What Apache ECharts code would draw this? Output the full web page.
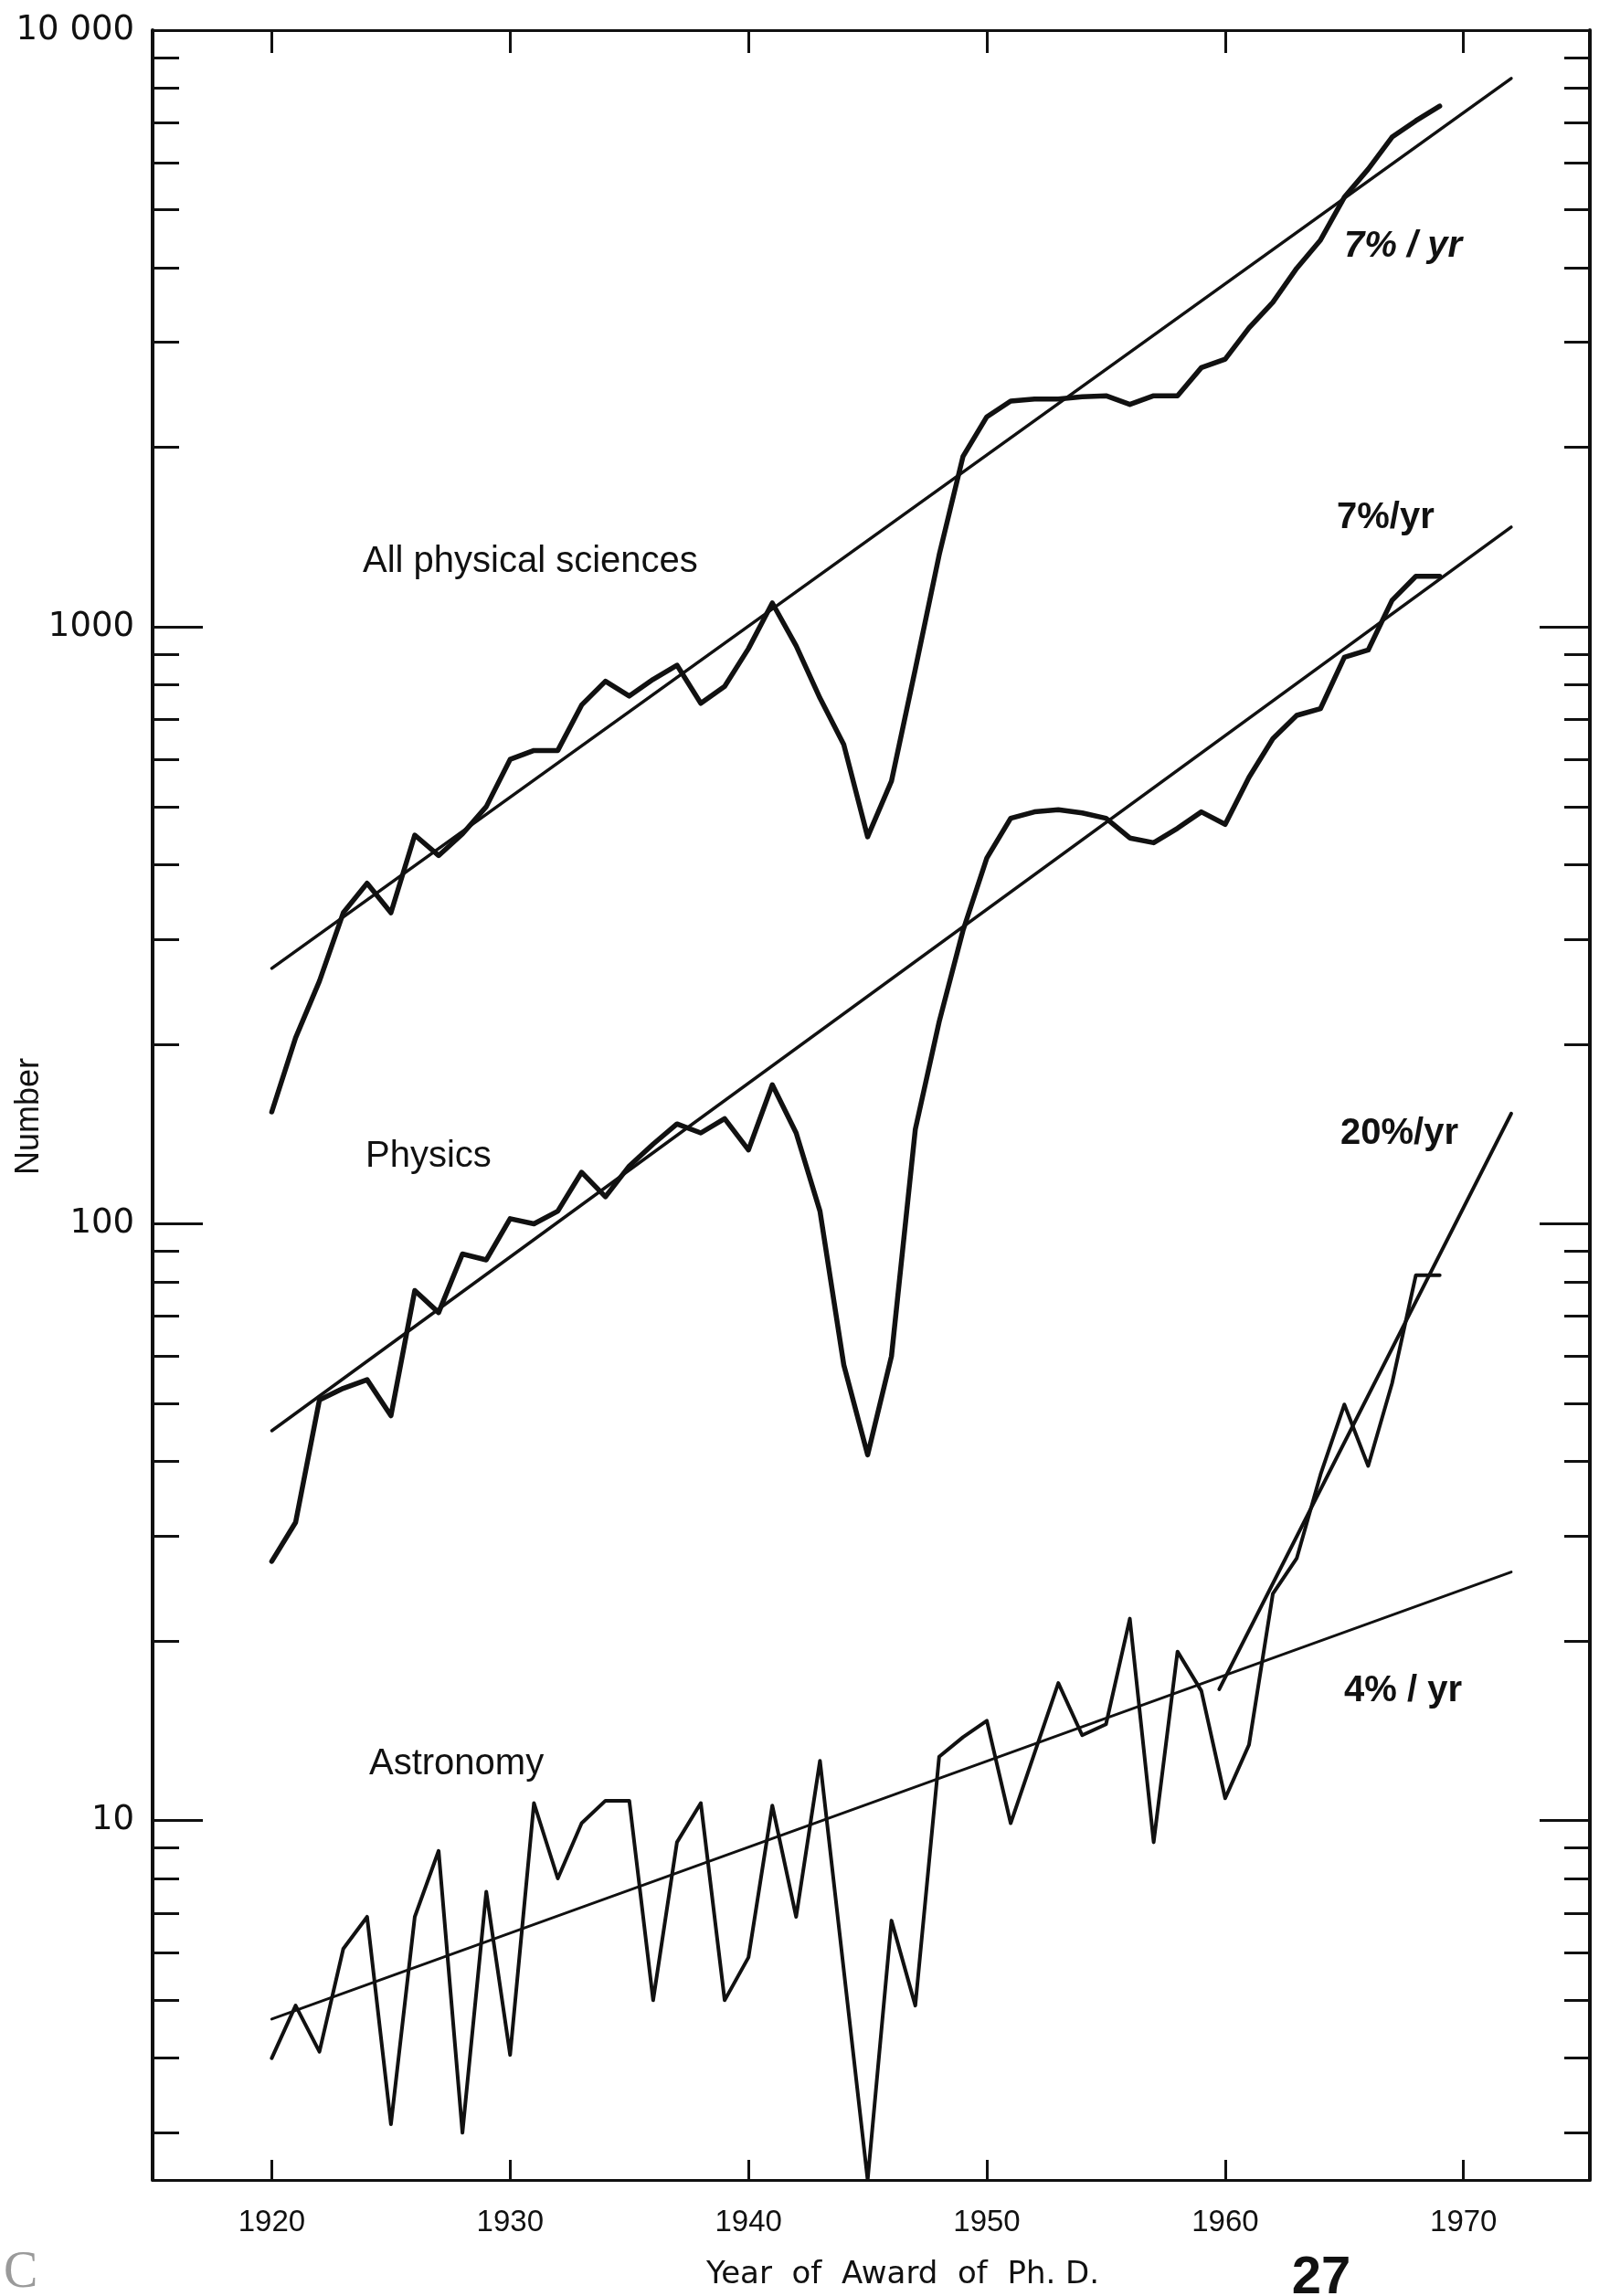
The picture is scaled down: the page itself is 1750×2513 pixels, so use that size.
<!DOCTYPE html>
<html>
<head>
<meta charset="utf-8">
<title>Ph.D. awards per year</title>
<script src="https://cdn.jsdelivr.net/npm/echarts@6/dist/echarts.min.js"></script>
<style>
html, body { margin: 0; padding: 0; background: #fff; }
#chart { width: 1750px; height: 2513px; }
</style>
</head>
<body>
<div id="chart"></div>
<script>
// years of award
var years = [1920, 1921, 1922, 1923, 1924, 1925, 1926, 1927, 1928, 1929,
             1930, 1931, 1932, 1933, 1934, 1935, 1936, 1937, 1938, 1939,
             1940, 1941, 1942, 1943, 1944, 1945, 1946, 1947, 1948, 1949,
             1950, 1951, 1952, 1953, 1954, 1955, 1956, 1957, 1958, 1959,
             1960, 1961, 1962, 1963, 1964, 1965, 1966, 1967, 1968, 1969];

// number of Ph.D.s
var allPhysSci = [154, 205, 255, 332, 372, 332, 448, 414, 450, 500,
                  600, 621, 621, 740, 811, 766, 817, 863, 745, 795,
                  920, 1097, 930, 760, 635, 445, 552, 850, 1320, 1930,
                  2250, 2390, 2410, 2410, 2430, 2440, 2360, 2440, 2440, 2720,
                  2810, 3170, 3500, 3990, 4450, 5250, 5850, 6620, 7050, 7460];

var physics = [27.2, 31.6, 50.7, 53, 54.8, 47.7, 77.3, 71, 89, 87,
               102, 100, 105, 122, 111, 125, 136, 147, 142, 150,
               133, 171, 142, 105, 58, 41, 60, 144, 218, 310,
               410, 478, 490, 494, 488, 478, 443, 435, 460, 490,
               467, 560, 650, 711, 730, 890, 915, 1108, 1216, 1216];

var astronomy = [4.0, 4.9, 4.1, 6.1, 6.9, 3.1, 6.9, 8.9, 3.0, 7.6,
                 4.05, 10.7, 8.0, 9.9, 10.8, 10.8, 5.0, 9.2, 10.7, 5.0,
                 5.9, 10.6, 6.9, 12.6, null, 2.5, 6.8, 4.9, 12.8, 13.8,
                 14.7, 9.9, null, 17, 13.9, 14.5, 21.8, 9.2, 19.2, 16.5,
                 10.9, 13.4, 24, 27.5, 38, 49.8, 39.3, 54, 82, 82];

// fitted growth lines [year, number]
var apsTrend = [[1920, 268], [1972, 8300]];
var physicsTrend = [[1920, 45], [1972, 1470]];
var astroTrend4 = [[1920, 4.65], [1972, 26.1]];
var astroTrend20 = [[1959.75, 16.6], [1972, 153]];

// ticks
var xTickYears = [1920, 1930, 1940, 1950, 1960, 1970];
var yMajorTicks = [10, 100, 1000, 10000];
var yMinorTicks = [3, 4, 5, 6, 7, 8, 9,
                   20, 30, 40, 50, 60, 70, 80, 90,
                   200, 300, 400, 500, 600, 700, 800, 900,
                   2000, 3000, 4000, 5000, 6000, 7000, 8000, 9000];

var INK = '#111';
var X_MIN = 1915, X_MAX = 1975.3;
var Y_MIN = 2.5, Y_MAX = 10000;

function pairs(xs, ys) {
    var out = [];
    for (var i = 0; i < xs.length; i++) {
        out.push([xs[i], ys[i]]);
    }
    return out;
}

/*一条折线*/
function lineSeries(name, data, width) {
    return {
        name: name,
        type: 'line',
        data: data,
        showSymbol: false,
        connectNulls: true,
        silent: true,
        xAxisIndex: 0,
        yAxisIndex: 0,
        lineStyle: { color: INK, width: width, cap: 'round', join: 'round' }
    };
}

/*x 轴: 底部带标签, 顶部只有刻度*/
function xAxisCfg(position, tickLen, showLabel) {
    return {
        type: 'value',
        position: position,
        min: X_MIN,
        max: X_MAX,
        axisLine: { show: true, lineStyle: { color: INK, width: 3 } },
        axisTick: { show: true, inside: true, length: tickLen, customValues: xTickYears,
                    lineStyle: { color: INK, width: 3 } },
        axisLabel: {
            show: showLabel,
            customValues: xTickYears,
            margin: 30,
            color: INK,
            fontSize: 33,
            fontFamily: 'Liberation Sans',
            formatter: function (v) { return String(Math.round(v)); }
        },
        splitLine: { show: false }
    };
}

/*y 轴 (对数): 主刻度 / 次刻度分两根轴叠放*/
function yAxisCfg(position, ticks, tickLen, showLabel, showLine) {
    return {
        type: 'log',
        logBase: 10,
        position: position,
        min: Y_MIN,
        max: Y_MAX,
        axisLine: { show: showLine, lineStyle: { color: INK, width: 4 } },
        axisTick: { show: true, inside: true, length: tickLen, customValues: ticks,
                    lineStyle: { color: INK, width: 3 } },
        axisLabel: {
            show: showLabel,
            customValues: ticks,
            margin: 20,
            color: INK,
            fontSize: 37,
            fontFamily: 'DejaVu Sans',
            formatter: function (v) {
                var n = Math.round(v);
                return n === 10000 ? '10 000' : String(n);
            }
        },
        splitLine: { show: false },
        minorTick: { show: false }
    };
}

function textEl(text, x, y, font, align) {
    return {
        type: 'text',
        x: x,
        y: y,
        silent: true,
        style: { text: text, font: font, fill: INK,
                 textAlign: align || 'left', textVerticalAlign: 'middle' }
    };
}

var option = {
    backgroundColor: '#fff',
    animation: false,
    grid: { left: 167, right: 10, top: 33, bottom: 127, containLabel: false },
    xAxis: [
        xAxisCfg('bottom', 22, true),
        xAxisCfg('top', 25, false)
    ],
    yAxis: [
        yAxisCfg('left', yMajorTicks, 55, true, true),
        yAxisCfg('left', yMinorTicks, 29, false, false),
        yAxisCfg('right', yMajorTicks, 55, false, true),
        yAxisCfg('right', yMinorTicks, 28, false, false)
    ],
    series: [
        lineSeries('All physical sciences', pairs(years, allPhysSci), 5.5),
        lineSeries('Physics', pairs(years, physics), 5.5),
        lineSeries('Astronomy', pairs(years, astronomy), 4),
        lineSeries('APS 7%/yr', apsTrend, 3.5),
        lineSeries('Physics 7%/yr', physicsTrend, 3.5),
        lineSeries('Astronomy 4%/yr', astroTrend4, 3),
        lineSeries('Astronomy 20%/yr', astroTrend20, 4)
    ],
    graphic: [
        textEl('All physical sciences', 397, 615, '40px "Liberation Sans"'),
        textEl('Physics', 400, 1266, '40px "Liberation Sans"'),
        textEl('Astronomy', 404, 1931, '40px "Liberation Sans"'),
        textEl('7% / yr', 1471, 270, 'italic bold 40px "Liberation Sans"'),
        textEl('7%/yr', 1463, 567, 'bold 40px "Liberation Sans"'),
        textEl('20%/yr', 1467, 1241, 'bold 40px "Liberation Sans"'),
        textEl('4% / yr', 1471, 1851, 'bold 40px "Liberation Sans"'),
        textEl('Year  of  Award  of  Ph. D.', 988, 2490, '34px "DejaVu Sans"', 'center'),
        textEl('27', 1446, 2494, 'bold 58px "Liberation Sans"', 'center'),
        {
            type: 'text',
            x: 32,
            y: 1222,
            rotation: Math.PI / 2,
            silent: true,
            style: { text: 'Number', font: '36px "Liberation Sans"', fill: INK,
                     textAlign: 'center', textVerticalAlign: 'middle' }
        },
        {
            type: 'text',
            x: 4,
            y: 2488,
            silent: true,
            style: { text: 'C', font: '56px "Liberation Serif"', fill: '#9a9a9a',
                     textAlign: 'left', textVerticalAlign: 'middle' }
        }
    ]
};

var myChart = echarts.init(document.getElementById('chart'), null, { renderer: 'canvas' });
myChart.setOption(option);
</script>
</body>
</html>
